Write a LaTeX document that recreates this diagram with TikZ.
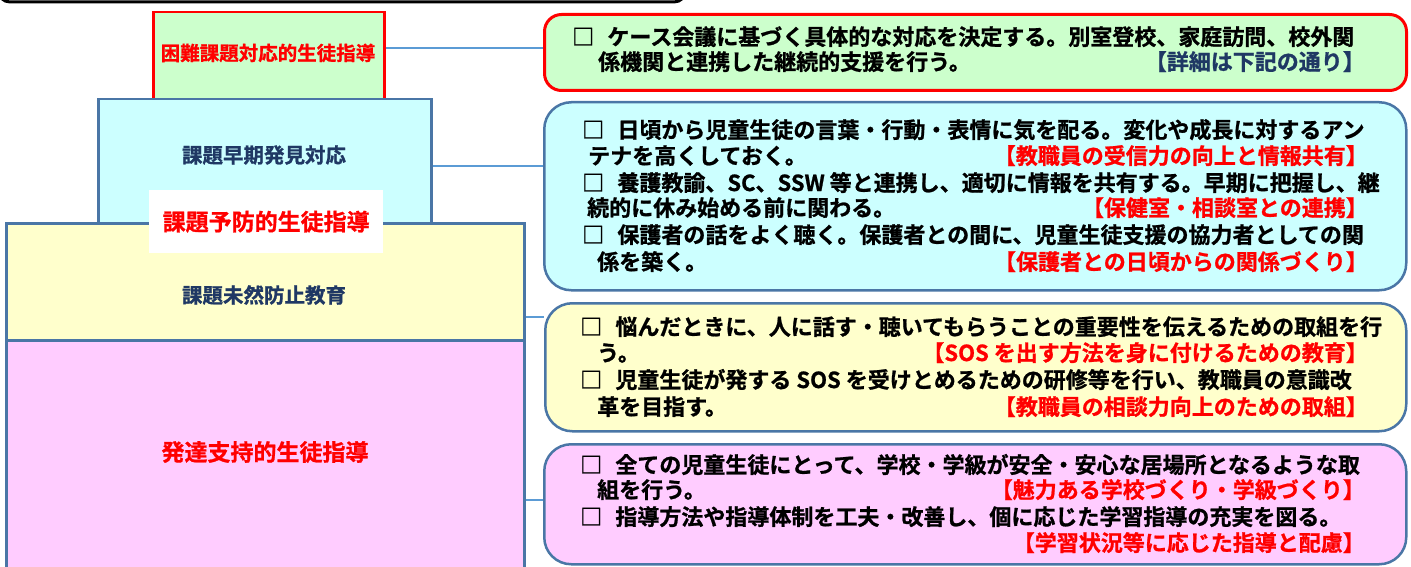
\documentclass[tikz,border=0pt]{standalone}
\usepackage{fontspec}
\newfontfamily\jpb{Noto Sans CJK JP Bold}[FakeBold=1]
\definecolor{gfill}{HTML}{CCFFCC}
\definecolor{cfill}{HTML}{CCFFFF}
\definecolor{yfill}{HTML}{FFFFCC}
\definecolor{pfill}{HTML}{FFCCFF}
\definecolor{bord}{HTML}{4A76A6}
\definecolor{conn}{HTML}{5B9BD5}
\definecolor{navy}{HTML}{1F3864}
\definecolor{jred}{HTML}{FF0000}
\tikzset{
  lbox/.style={draw=bord, line width=2.5pt, anchor=north west, inner sep=0pt, rectangle},
  rbox/.style={draw=bord, line width=2.5pt, anchor=north west, inner sep=0pt, rectangle, rounded corners=27pt},
  link/.style={draw=conn, line width=2.5pt},
  tl/.style={anchor=base west, inner sep=0pt, font=\jpb\fontsize{22}{26}\selectfont, text=black},
  tr/.style={anchor=base east, inner sep=0pt, font=\jpb\fontsize{22}{26}\selectfont, text=jred},
  lab/.style={inner sep=0pt, font=\jpb\fontsize{20.5}{24}\selectfont, text=navy},
  rlab/.style={inner sep=0pt, font=\jpb\fontsize{23}{27}\selectfont, text=jred},
}
\newcommand{\bx}{□\hspace{0.6em}}
\begin{document}
\begin{tikzpicture}[x=1pt,y=-1pt]
\useasboundingbox (0,0) rectangle (1411,567);
\clip (0,0) rectangle (1411,567);
% top black frame remnant
\draw[line width=3pt, rounded corners=12pt] (-2,-40) rectangle (686,2);
% left stack
\node[lbox, draw=jred, fill=gfill, minimum width=231pt, minimum height=100pt] (gL) at (152,11) {};
\node[lbox, fill=cfill, minimum width=333pt, minimum height=140pt] (cL) at (97,98) {};
\node[lbox, fill=yfill, minimum width=518pt, minimum height=117pt] (yL) at (5,222) {};
\node[lbox, fill=pfill, minimum width=518pt, minimum height=260pt] (pL) at (5,339) {};
\node[fill=white, anchor=north west, minimum width=234pt, minimum height=63pt, inner sep=0pt] (wL) at (149,190) {};
% left labels
\node[rlab, font=\jpb\fontsize{19.5}{24}\selectfont] (tA) at (268,53) {困難課題対応的生徒指導};
\node[lab] (tB) at (264,155) {課題早期発見対応};
\node[rlab] (tW) at (wL.center) {課題予防的生徒指導};
\node[lab] (tC) at (264,295) {課題未然防止教育};
\node[rlab] (tD) at (265,452) {発達支持的生徒指導};
% right boxes
\node[rbox, draw=jred, line width=3pt, rounded corners=17pt, fill=gfill, minimum width=862pt, minimum height=76pt] (gR) at (543,13) {};
\node[rbox, fill=cfill, minimum width=862pt, minimum height=188pt] (cR) at (543,101) {};
\node[rbox, fill=yfill, minimum width=861pt, minimum height=128pt] (yR) at (544,302) {};
\node[rbox, fill=pfill, minimum width=862pt, minimum height=120pt] (pR) at (543,443) {};
% connectors
\draw[link] (gL.east |- 0,48) -- (gR.west |- 0,48);
\draw[link] (cL.east |- 0,166) -- (cR.west |- 0,166);
\draw[link] (yL.east |- 0,317) -- (yR.west |- 0,317);
\draw[link] (pL.east |- 0,500) -- (pR.west |- 0,500);
% green text
\node[tl] (g1) at (572,45) {\bx ケース会議に基づく具体的な対応を決定する。別室登校、家庭訪問、校外関};
\node[tl] (g2) at (598,70) {係機関と連携した継続的支援を行う。};
\node[tr, text=navy] (g2r) at (1365,70) {【詳細は下記の通り】};
% cyan text
\node[tl] (c1) at (582,138) {\bx 日頃から児童生徒の言葉・行動・表情に気を配る。変化や成長に対するアン};
\node[tl] (c2) at (588,164) {テナを高くしておく。};
\node[tr] (c2r) at (1368,164) {【教職員の受信力の向上と情報共有】};
\node[tl] (c3) at (582,191) {\bx 養護教諭、SC、SSW 等と連携し、適切に情報を共有する。早期に把握し、継};
\node[tl] (c4) at (587,216) {続的に休み始める前に関わる。};
\node[tr] (c4r) at (1368,216) {【保健室・相談室との連携】};
\node[tl] (c5) at (582,243) {\bx 保護者の話をよく聴く。保護者との間に、児童生徒支援の協力者としての関};
\node[tl] (c6) at (597,270) {係を築く。};
\node[tr] (c6r) at (1368,270) {【保護者との日頃からの関係づくり】};
% yellow text
\node[tl] (y1) at (580,335) {\bx 悩んだときに、人に話す・聴いてもらうことの重要性を伝えるための取組を行};
\node[tl] (y2) at (597,361) {う。};
\node[tr] (y2r) at (1368,361) {【SOS を出す方法を身に付けるための教育】};
\node[tl] (y3) at (580,388) {\bx 児童生徒が発する SOS を受けとめるための研修等を行い、教職員の意識改};
\node[tl] (y4) at (597,415) {革を目指す。};
\node[tr] (y4r) at (1368,415) {【教職員の相談力向上のための取組】};
% pink text
\node[tl] (p1) at (580,473) {\bx 全ての児童生徒にとって、学校・学級が安全・安心な居場所となるような取};
\node[tl] (p2) at (597,498) {組を行う。};
\node[tr] (p2r) at (1365,498) {【魅力ある学校づくり・学級づくり】};
\node[tl] (p3) at (580,525) {\bx 指導方法や指導体制を工夫・改善し、個に応じた学習指導の充実を図る。};
\node[tr] (p4r) at (1365,551) {【学習状況等に応じた指導と配慮】};
\end{tikzpicture}
\end{document}
